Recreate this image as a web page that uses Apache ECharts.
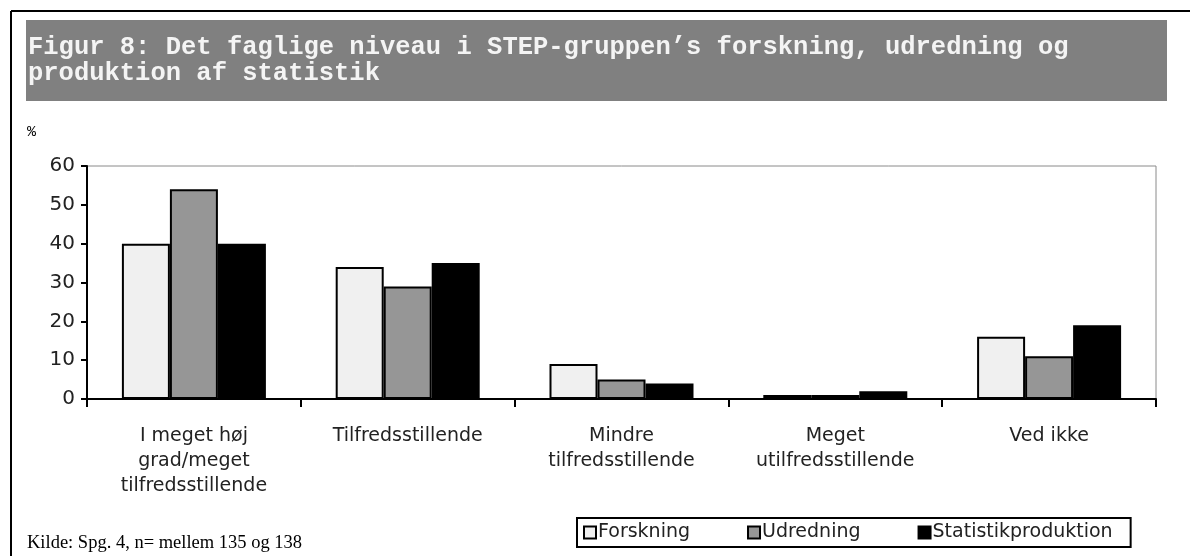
<!DOCTYPE html>
<html>
<head>
<meta charset="utf-8">
<script src="https://cdn.jsdelivr.net/npm/echarts@6/dist/echarts.min.js"></script>
<style>
  html, body { margin: 0; padding: 0; background: #fff; }
  #chart { width: 1190px; height: 556px; }
</style>
</head>
<body>
<div id="chart"></div>
<script>
// data
var categories = ['I meget høj\ngrad/meget\ntilfredsstillende', 'Tilfredsstillende', 'Mindre\ntilfredsstillende', 'Meget\nutilfredsstillende', 'Ved ikke']
var forskning = [40, 34, 9, 1, 16]
var udredning = [54, 29, 5, 1, 11]
var statistik = [40, 35, 4, 2, 19]
var seriesNames = ['Forskning', 'Udredning', 'Statistikproduktion']

var labelFont = 'DejaVu Sans'

var chart = echarts.init(document.getElementById('chart'))

function barSeries(name, data, color) {
  return {
    name: name,
    type: 'bar',
    data: data,
    barWidth: 48,
    barGap: '0%',
    itemStyle: {
      color: color,
      borderColor: '#000',
      borderWidth: 2
    },
    animation: false
  }
}

chart.setOption({
  animation: false,
  grid: {
    left: 87,
    right: 34,
    top: 166,
    bottom: 157,
    show: true,
    borderColor: '#8a8a8a',
    borderWidth: 1
  },
  xAxis: {
    type: 'category',
    data: categories,
    axisLine: { lineStyle: { color: '#000', width: 2 } },
    axisTick: { show: true, interval: 0, length: 8, lineStyle: { color: '#000', width: 2 } },
    axisLabel: {
      interval: 0,
      margin: 25,
      fontFamily: labelFont,
      fontSize: 19,
      lineHeight: 25,
      color: '#222'
    }
  },
  yAxis: {
    type: 'value',
    min: 0,
    max: 60,
    interval: 10,
    axisLine: { show: true, lineStyle: { color: '#000', width: 2 } },
    axisTick: { show: true, length: 6, lineStyle: { color: '#000', width: 2 } },
    splitLine: { show: false },
    axisLabel: {
      margin: 12,
      fontFamily: labelFont,
      fontSize: 20,
      color: '#222'
    }
  },
  legend: {
    data: seriesNames,
    left: 577,
    top: 518,
    itemWidth: 12,
    itemHeight: 12,
    itemGap: 57,
    icon: 'rect',
    borderColor: '#000',
    borderWidth: 2,
    padding: [5, 18, 5, 6],
    textStyle: {
      fontFamily: labelFont,
      fontSize: 19,
      color: '#222',
      padding: [0, 0, 0, -3]
    }
  },
  graphic: [
    { type: 'line', shape: { x1: 11, y1: 11, x2: 1190, y2: 11 }, style: { stroke: '#000', lineWidth: 2 } },
    { type: 'line', shape: { x1: 11, y1: 11, x2: 11, y2: 556 }, style: { stroke: '#000', lineWidth: 2 } },
    { type: 'rect', shape: { x: 26, y: 20, width: 1141, height: 81 }, style: { fill: '#808080' } },
    {
      type: 'text', left: 28, top: 35,
      style: {
        text: 'Figur 8: Det faglige niveau i STEP-gruppen’s forskning, udredning og\nproduktion af statistik',
        fontFamily: 'Liberation Mono', fontWeight: 'bold', fontSize: 25.5, lineHeight: 26,
        fill: '#f4f4f4'
      }
    },
    {
      type: 'text', left: 27, top: 125,
      style: { text: '%', fontFamily: 'Liberation Mono', fontSize: 15, fill: '#000' }
    },
    {
      type: 'text', left: 27, top: 534,
      style: { text: 'Kilde: Spg. 4, n= mellem 135 og 138', fontFamily: 'Liberation Serif', fontSize: 18.5, fill: '#000' }
    }
  ],
  series: [
    barSeries('Forskning', forskning, '#f0f0f0'),
    barSeries('Udredning', udredning, '#969696'),
    barSeries('Statistikproduktion', statistik, '#000')
  ]
})
</script>
</body>
</html>
